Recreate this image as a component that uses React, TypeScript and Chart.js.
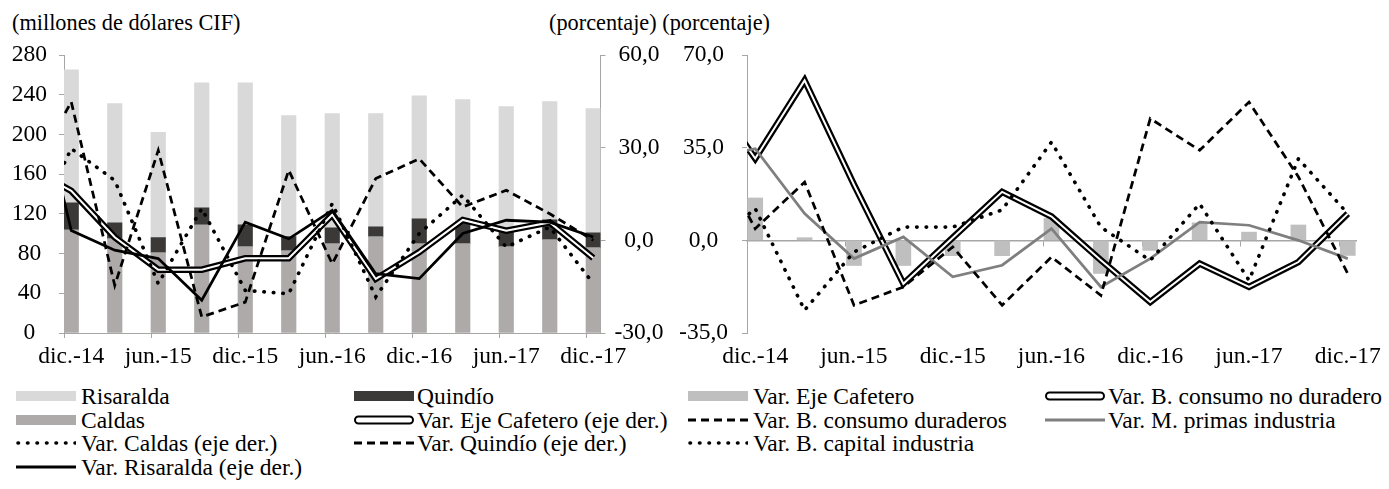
import React, { useEffect, useRef } from "react";
import { Chart, registerables } from "chart.js";
Chart.register(...registerables);

const FONT = "'Liberation Serif', 'Times New Roman', Times, serif";
const AXIS = "#A6A6A6";

// Quarterly observations; the first one (sep.-14) lies just before the visible range
const quarters = ["sep.-14", "dic.-14", "mar.-15", "jun.-15", "sep.-15", "dic.-15", "mar.-16", "jun.-16", "sep.-16", "dic.-16", "mar.-17", "jun.-17", "sep.-17", "dic.-17"];
const tickLabels = ["dic.-14", "jun.-15", "dic.-15", "jun.-16", "dic.-16", "jun.-17", "dic.-17"];

// Left chart: millones de dólares CIF
const caldas = [null, 104, 95, 81, 109, 87, 83, 90, 97, 90, 90, 87, 94, 86];
const quindio = [null, 27, 16, 15, 17, 22, 14, 16, 10, 25, 22, 15, 20, 15];
const risaralda = [null, 134, 120, 106, 126, 143, 122, 115, 114, 124, 123, 126, 119, 125];

// Variations (%)
const varEjeCafetero = [24, 16.0, 1.0, -9.5, -9.5, -5.8, -5.8, 8.3, -12.5, -3.8, 6.6, 3.1, 5.8, -5.7];
const varCaldas = [0, 29.7, 19.4, -14.0, 10.3, -16.2, -17.3, 11.9, -18.3, 2.2, 14.6, -2.2, 4.3, -14.0];
const varQuindio = [19, 44.8, -14.6, 29.1, -24.8, -20.0, 22.7, -7.6, 20.0, 26.4, 10.8, 16.2, 8.6, 0];
const varRisaralda = [62, 3.2, -3.2, -5.9, -19.4, 5.9, 0.5, 9.7, -10.8, -12.4, 2.2, 6.5, 5.9, 1.1];

// Right chart: variations by use (%)
const varNoDuradero = [57.6, 30.9, 60.4, 21.0, -16.4, 1.0, 18.3, 9.0, -7.5, -23.3, -8.8, -17.6, -8.2, 10.1];
const varDuraderos = [39.7, 4.4, 22.0, -24.5, -17.6, -2.5, -24.5, -6.3, -20.8, 46.0, 34.0, 52.2, 24.0, -12.6];
const varMPrimas = [31, 34.6, 10.1, -6.9, 1.3, -13.8, -9.4, 4.4, -17.6, -6.9, 6.9, 5.7, 0, -6.9];
const varCapital = [-4, 12.0, -26.4, -4.4, 5.0, 5.0, 11.5, 37.1, 5.0, -7.6, 13.8, -15.1, 30.8, 10.1];

// month slot centre of each quarter (dic.-14 slot = [0,1])
const pts = (vals: (number | null)[]) => vals.map((v, j) => ({ x: 3 * j - 2.5, y: v, q: quarters[j] }));
const tickMonths = tickLabels.map((_, k) => 6 * k);
const X_MIN = 0;
const X_MAX = 37;
const pct = (v: number) => v.toFixed(1).replace(".", ",");

const zeroPad = (s: any) => {
  s.paddingTop = 0; s.paddingBottom = 0; s.paddingLeft = 0; s.paddingRight = 0;
};
const fixRange = (s: any) => { s.min = X_MIN; s.max = X_MAX; };
const setTicks = (s: any) => { s.min = X_MIN; s.max = X_MAX; s.ticks = tickMonths.map((v) => ({ value: v })); };

function lineDs(label: string, data: any, yAxisID: string, extra: any) {
  return {
    type: "line", label, data: pts(data), yAxisID, xAxisID: "x",
    borderColor: "#000", borderWidth: 2.75, pointRadius: 0, pointHoverRadius: 0,
    fill: false, tension: 0, clip: 0, borderJoinStyle: "miter", ...extra,
  };
}

const tickFont = { family: FONT, size: 23.5 };

function leftConfig(W: number, H: number): any {
  return {
    type: "line",
    data: {
      datasets: [
        lineDs("Var. Risaralda (eje der.)", varRisaralda, "y1", {}),
        lineDs("Var. Quindío (eje der.)", varQuindio, "y1", { borderDash: [8, 5] }),
        lineDs("Var. Caldas (eje der.)", varCaldas, "y1", { borderDash: [0.5, 9], borderCapStyle: "round", borderWidth: 3.6 }),
        lineDs("Var. Eje Cafetero (eje der.) inner", varEjeCafetero, "y1", { borderColor: "#fff", borderWidth: 2 }),
        lineDs("Var. Eje Cafetero (eje der.)", varEjeCafetero, "y1", { borderWidth: 6.5 }),
        { type: "bar", label: "Caldas", data: pts(caldas), yAxisID: "y", xAxisID: "x", backgroundColor: "#AEAAAA", barThickness: 14.5, grouped: false },
        { type: "bar", label: "Quindío", data: pts(quindio), yAxisID: "y", xAxisID: "x", backgroundColor: "#3B3838", barThickness: 14.5, grouped: false },
        { type: "bar", label: "Risaralda", data: pts(risaralda), yAxisID: "y", xAxisID: "x", backgroundColor: "#D9D9D9", barThickness: 14.5, grouped: false },
      ],
    },
    options: {
      responsive: false, animation: false, events: [],
      layout: { padding: { top: 55, left: 0, right: 0, bottom: 0 } },
      plugins: { legend: { display: false }, tooltip: { enabled: false } },
      scales: {
        x: {
          type: "linear", position: "bottom", min: X_MIN, max: X_MAX, offset: false, bounds: "data",
          afterDataLimits: fixRange,
          afterBuildTicks: setTicks,
          afterFit: (s: any) => { s.height = H - 333; zeroPad(s); },
          ticks: { callback: (v: number) => tickLabels[tickMonths.indexOf(v)], autoSkip: false, maxRotation: 0, padding: 5, labelOffset: 7.25, color: "#000", font: tickFont },
          grid: { display: true, offset: false, drawOnChartArea: false, drawTicks: true, tickLength: 5, color: AXIS },
          border: { display: true, color: AXIS, width: 1 },
        },
        y: {
          position: "left", min: 0, max: 280, stacked: true,
          afterFit: (s: any) => { s.width = 64; zeroPad(s); },
          ticks: { stepSize: 40, crossAlign: "center", padding: 12, color: "#000", font: tickFont },
          grid: { display: true, drawOnChartArea: false, drawTicks: true, tickLength: 5, color: AXIS },
          border: { display: true, color: AXIS, width: 1 },
        },
        y1: {
          position: "right", min: -30, max: 60,
          afterFit: (s: any) => { s.width = W - 600.5; zeroPad(s); },
          ticks: { stepSize: 30, crossAlign: "center", padding: 9, callback: (v: number) => pct(v), color: "#000", font: tickFont },
          grid: { display: true, drawOnChartArea: false, drawTicks: true, tickLength: 5, color: AXIS },
          border: { display: true, color: AXIS, width: 1 },
        },
      },
    },
  };
}

function rightConfig(W: number, H: number): any {
  return {
    type: "line",
    data: {
      datasets: [
        lineDs("Var. B. capital industria", varCapital, "y", { borderDash: [0.5, 9], borderCapStyle: "round", borderWidth: 3.6 }),
        lineDs("Var. B. consumo duraderos", varDuraderos, "y", { borderDash: [8, 5] }),
        lineDs("Var. M. primas industria", varMPrimas, "y", { borderColor: "#7F7F7F" }),
        lineDs("Var. B. consumo no duradero inner", varNoDuradero, "y", { borderColor: "#fff", borderWidth: 2 }),
        lineDs("Var. B. consumo no duradero", varNoDuradero, "y", { borderWidth: 6.5 }),
        { type: "bar", label: "Var. Eje Cafetero", data: pts(varEjeCafetero), yAxisID: "y", xAxisID: "x", backgroundColor: "#BFBFBF", barThickness: 15, grouped: false },
      ],
    },
    options: {
      responsive: false, animation: false, events: [],
      layout: { padding: { top: 55, left: 0, right: W - 676, bottom: 0 } },
      plugins: { legend: { display: false }, tooltip: { enabled: false } },
      scales: {
        x: {
          type: "linear", position: "bottom", min: X_MIN, max: X_MAX, offset: false, bounds: "data",
          afterDataLimits: fixRange,
          afterBuildTicks: setTicks,
          afterFit: (s: any) => { s.height = H - 333; zeroPad(s); },
          ticks: { callback: (v: number) => tickLabels[tickMonths.indexOf(v)], autoSkip: false, maxRotation: 0, padding: 10, labelOffset: 8.2, color: "#000", font: tickFont },
          grid: { display: false, drawTicks: false, offset: false },
          border: { display: false },
        },
        x0: {
          axis: "x", type: "linear", position: { y: 0 }, min: X_MIN, max: X_MAX, offset: false, bounds: "data",
          afterDataLimits: fixRange,
          afterBuildTicks: setTicks,
          afterFit: (s: any) => { zeroPad(s); },
          ticks: { display: false },
          grid: { display: true, offset: false, drawOnChartArea: false, drawTicks: true, tickLength: 5, color: AXIS },
          border: { display: true, color: AXIS, width: 1.5 },
        },
        y: {
          position: "left", min: -35, max: 70,
          afterFit: (s: any) => { s.width = 67; zeroPad(s); },
          ticks: { stepSize: 35, crossAlign: "center", padding: 14, callback: (v: number) => pct(v), color: "#000", font: tickFont },
          grid: { display: true, drawOnChartArea: false, drawTicks: true, tickLength: 5, color: AXIS },
          border: { display: true, color: AXIS, width: 1 },
        },
      },
    },
  };
}

function ChartBox({ left, top, W, H, make }: any) {
  const ref = useRef<HTMLCanvasElement>(null);
  useEffect(() => {
    const chart = new Chart(ref.current as HTMLCanvasElement, make(W, H));
    return () => chart.destroy();
  }, []);
  return (
    <div style={{ position: "absolute", left, top, width: W, height: H }}>
      <canvas ref={ref} width={W} height={H} style={{ width: W, height: H, display: "block" }} />
    </div>
  );
}

function Sym({ kind, color }: { kind: string; color: string }) {
  const w = 60;
  let el: any = null;
  if (kind === "box") el = <rect x={0} y={1} width={w} height={10} fill={color} />;
  if (kind === "line") el = <line x1={0} y1={6} x2={w} y2={6} stroke={color} strokeWidth={3} />;
  if (kind === "dash") el = <line x1={0} y1={6} x2={w} y2={6} stroke={color} strokeWidth={3} strokeDasharray="8 5" />;
  if (kind === "dot") el = <line x1={2} y1={6} x2={w} y2={6} stroke={color} strokeWidth={3.6} strokeDasharray="0.5 9" strokeLinecap="round" />;
  if (kind === "double") el = <rect x={1} y={2.5} width={w - 2} height={7} rx={3.5} fill="#fff" stroke={color} strokeWidth={2} />;
  return <svg width={w} height={12} style={{ display: "block" }}>{el}</svg>;
}

type Item = { label: string; kind: string; color: string; sx: number; tx: number; y: number };

const rowsL = [396, 419.5, 443, 467];
const rowsR = [396, 419.5, 443];

const legendItems: Item[] = [
  { label: "Risaralda", kind: "box", color: "#D9D9D9", sx: 16, tx: 81, y: rowsL[0] },
  { label: "Quindío", kind: "box", color: "#3B3838", sx: 354, tx: 417, y: rowsL[0] },
  { label: "Caldas", kind: "box", color: "#AEAAAA", sx: 16, tx: 81, y: rowsL[1] },
  { label: "Var. Eje Cafetero (eje der.)", kind: "double", color: "#000", sx: 354, tx: 417, y: rowsL[1] },
  { label: "Var. Caldas (eje der.)", kind: "dot", color: "#000", sx: 16, tx: 81, y: rowsL[2] },
  { label: "Var. Quindío (eje der.)", kind: "dash", color: "#000", sx: 354, tx: 417, y: rowsL[2] },
  { label: "Var. Risaralda (eje der.)", kind: "line", color: "#000", sx: 16, tx: 81, y: rowsL[3] },
  { label: "Var. Eje Cafetero", kind: "box", color: "#BFBFBF", sx: 688, tx: 753, y: rowsR[0] },
  { label: "Var. B. consumo no duradero", kind: "double", color: "#000", sx: 1045, tx: 1108, y: rowsR[0] },
  { label: "Var. B. consumo duraderos", kind: "dash", color: "#000", sx: 688, tx: 753, y: rowsR[1] },
  { label: "Var. M. primas industria", kind: "line", color: "#7F7F7F", sx: 1045, tx: 1108, y: rowsR[1] },
  { label: "Var. B. capital industria", kind: "dot", color: "#000", sx: 688, tx: 753, y: rowsR[2] },
];

const textStyle: any = { position: "absolute", fontFamily: FONT, color: "#000", whiteSpace: "nowrap", lineHeight: "24px" };

export default function App() {
  return (
    <div style={{ position: "absolute", left: 0, top: 0, width: 1389, height: 489, overflow: "hidden", background: "#fff" }}>
      <div style={{ ...textStyle, left: 12, top: 11, fontSize: 22.3 }}>(millones de dólares CIF)</div>
      <div style={{ ...textStyle, left: 549, top: 11, fontSize: 22.3 }}>(porcentaje) (porcentaje)</div>
      <ChartBox left={0} top={0} W={690} H={380} make={leftConfig} />
      <ChartBox left={680} top={0} W={709} H={380} make={rightConfig} />
      {legendItems.map((it, i) => (
        <React.Fragment key={i}>
          <div style={{ position: "absolute", left: it.sx, top: it.y - 6 }}>
            <Sym kind={it.kind} color={it.color} />
          </div>
          <div style={{ ...textStyle, left: it.tx, top: it.y - 12, fontSize: 23.5 }}>{it.label}</div>
        </React.Fragment>
      ))}
    </div>
  );
}
